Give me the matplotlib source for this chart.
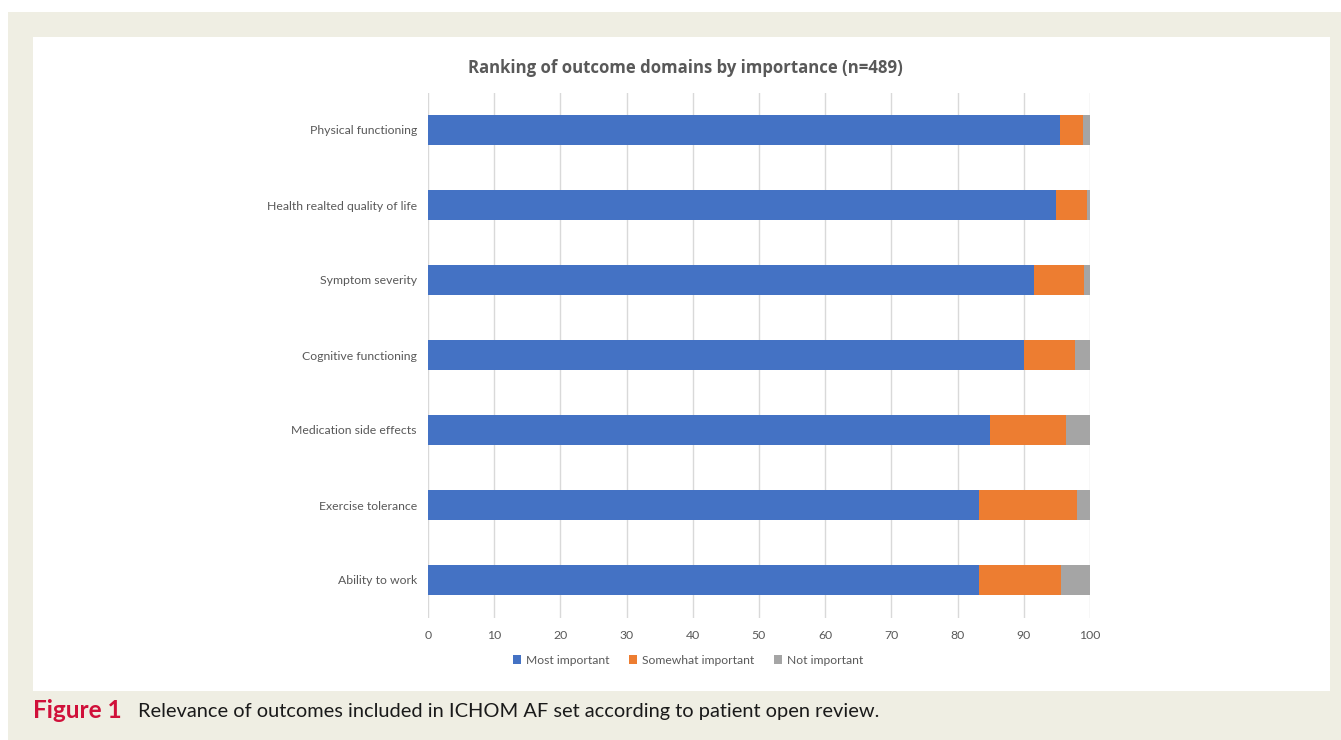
import matplotlib.pyplot as plt
from matplotlib.patches import Rectangle

# dane (w %)
domeny = ['Physical functioning', 'Health realted quality of life', 'Symptom severity',
          'Cognitive functioning', 'Medication side effects', 'Exercise tolerance',
          'Ability to work']
most_imp = [95.4, 94.9, 91.5, 90.0, 84.9, 83.3, 83.3]
somewhat_imp = [3.5, 4.7, 7.6, 7.7, 11.4, 14.7, 12.3]
not_imp = [1.1, 0.4, 0.9, 2.3, 3.7, 2.0, 4.4]
x_ticks = [0, 10, 20, 30, 40, 50, 60, 70, 80, 90, 100]

W, H = 1341, 740
fig = plt.figure(figsize=(W / 100, H / 100), dpi=100)
fig.patch.set_facecolor('white')

# tlo: bezowy panel i biala ramka wykresu
fig.patches.append(Rectangle((8 / W, 0), 1 - 8 / W, 1 - 12 / H, transform=fig.transFigure,
                             facecolor='#EFEEE3', edgecolor='none', zorder=-2))
fig.patches.append(Rectangle((33 / W, 1 - 691 / H), (1330 - 33) / W, (691 - 37) / H,
                             transform=fig.transFigure, facecolor='white',
                             edgecolor='none', zorder=-1))

ax = fig.add_axes([428 / W, 1 - 617.5 / H, (1090 - 428) / W, (617.5 - 92.5) / H])
ax.set_facecolor('none')

y = list(range(len(domeny)))
left2 = [a for a in most_imp]
left3 = [a + b for a, b in zip(most_imp, somewhat_imp)]
ax.barh(y, most_imp, height=0.4, color='#4472C4', label='Most important', zorder=2)
ax.barh(y, somewhat_imp, left=left2, height=0.4, color='#ED7D31',
        label='Somewhat important', zorder=2)
ax.barh(y, not_imp, left=left3, height=0.4, color='#A5A5A5', label='Not important', zorder=2)

ax.set_xlim(0, 100)
ax.set_ylim(len(domeny) - 0.5, -0.5)
ax.set_xticks(x_ticks)
ax.set_yticks(y)
ax.set_yticklabels(domeny)
ax.grid(axis='x', color='#D9D9D9', linewidth=1, zorder=0)
for s in ax.spines.values():
    s.set_visible(False)
ax.tick_params(length=0, labelsize=8.8, labelcolor='#595959')
ax.tick_params(axis='y', pad=8)
ax.tick_params(axis='x', pad=9)
for lab in ax.get_xticklabels() + ax.get_yticklabels():
    lab.set_family('Lato')

fig.text(685 / W, 1 - 68 / H, 'Ranking of outcome domains by importance (n=489)',
         ha='center', va='center', fontsize=12.1, fontweight='bold', color='#595959',
         family='Open Sans')

leg = fig.legend(loc='center', bbox_to_anchor=(688 / W, 1 - 660 / H), ncol=3,
                 frameon=False, handlelength=0.7, handleheight=0.7,
                 handletextpad=0.4, columnspacing=1.6, prop={'family': 'Lato', 'size': 8.7})
for t in leg.get_texts():
    t.set_color('#595959')

fig.text(33 / W, 1 - 711 / H, 'Figure 1', ha='left', va='center', fontsize=17.5,
         fontweight='bold', color='#D0103A', family='Lato')
fig.text(138 / W, 1 - 711 / H,
         'Relevance of outcomes included in ICHOM AF set according to patient open review.',
         ha='left', va='center', fontsize=14.4, color='#1A1A1A', family='Lato')

fig.savefig('out.png', dpi=100)
